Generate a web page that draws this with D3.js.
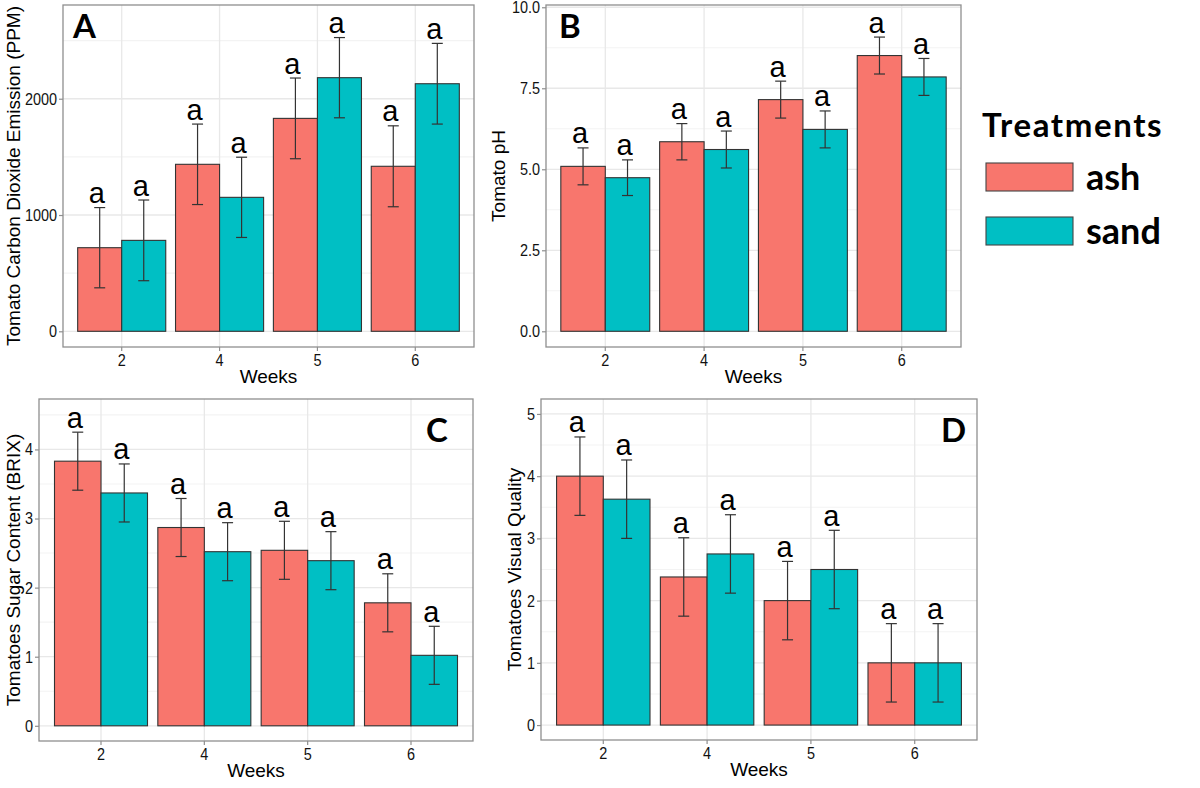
<!DOCTYPE html>
<html>
<head>
<meta charset="utf-8">
<script src="https://cdn.jsdelivr.net/npm/d3@7"></script>
<style>
  html, body { margin: 0; padding: 0; background: #ffffff; }
  svg { display: block; }
</style>
</head>
<body>
<svg id="chart" width="1200" height="788"></svg>
<script>
// ---------- DATA ----------
const weeks = ["2", "4", "5", "6"];
const treatments = ["ash", "sand"];
const treatmentColors = ["#F8766D", "#00BFC4"];

// A: Tomato Carbon Dioxide Emission (PPM)
const co2Ash = [719, 1436, 1831, 1419];
const co2Sand = [782, 1152, 2181, 2129];
const co2AshErr = [345, 346, 347, 348];
const co2SandErr = [347, 345, 345, 347];
const co2Letters = ["a", "a", "a", "a", "a", "a", "a", "a"];
const co2Ticks = [0, 1000, 2000];

// B: Tomato pH
const phAsh = [5.09, 5.85, 7.15, 8.51];
const phSand = [4.74, 5.61, 6.23, 7.85];
const phAshErr = [0.57, 0.56, 0.57, 0.57];
const phSandErr = [0.55, 0.57, 0.57, 0.57];
const phLetters = ["a", "a", "a", "a", "a", "a", "a", "a"];
const phTicks = [0, 2.5, 5, 7.5, 10];

// C: Tomatoes Sugar Content (BRIX)
const brixAsh = [3.83, 2.87, 2.54, 1.78];
const brixSand = [3.37, 2.52, 2.39, 1.02];
const brixAshErr = [0.42, 0.42, 0.42, 0.42];
const brixSandErr = [0.42, 0.42, 0.42, 0.42];
const brixLetters = ["a", "a", "a", "a", "a", "a", "a", "a"];
const brixTicks = [0, 1, 2, 3, 4];

// D: Tomatoes Visual Quality
const visAsh = [4.0, 2.38, 2.0, 1.0];
const visSand = [3.63, 2.75, 2.5, 1.0];
const visAshErr = [0.63, 0.63, 0.63, 0.63];
const visSandErr = [0.63, 0.63, 0.63, 0.63];
const visLetters = ["a", "a", "a", "a", "a", "a", "a", "a"];
const visTicks = [0, 1, 2, 3, 4, 5];

// ---------- LAYOUT ----------
const panels = [
  { letter: "A", title: "Tomato Carbon Dioxide Emission (PPM)", ash: co2Ash, sand: co2Sand, ashErr: co2AshErr, sandErr: co2SandErr, labels: co2Letters,
    ticks: co2Ticks, fmt: d3.format("d"), domain: [-135, 2806],
    box: { l: 63, r: 474, t: 5, b: 347 }, titleX: 20, letterPos: { x: 73, y: 38 } },
  { letter: "B", title: "Tomato pH", ash: phAsh, sand: phSand, ashErr: phAshErr, sandErr: phSandErr, labels: phLetters,
    ticks: phTicks, fmt: d3.format(".1f"), domain: [-0.485, 10.07],
    box: { l: 546, r: 961, t: 5, b: 347 }, titleX: 505, letterPos: { x: 559, y: 38 } },
  { letter: "C", title: "Tomatoes Sugar Content (BRIX)", ash: brixAsh, sand: brixSand, ashErr: brixAshErr, sandErr: brixSandErr, labels: brixLetters,
    ticks: brixTicks, fmt: d3.format("d"), domain: [-0.22, 4.73],
    box: { l: 39, r: 473, t: 399, b: 741 }, titleX: 20, letterPos: { x: 426, y: 442 } },
  { letter: "D", title: "Tomatoes Visual Quality", ash: visAsh, sand: visSand, ashErr: visAshErr, sandErr: visSandErr, labels: visLetters,
    ticks: visTicks, fmt: d3.format("d"), domain: [-0.24, 5.24],
    box: { l: 541, r: 977, t: 399, b: 740 }, titleX: 521, letterPos: { x: 941, y: 442 } }
];

const svg = d3.select("#chart");
const FONT = "'Liberation Sans', Arial, Helvetica, sans-serif";
const LFONT = "Lato, 'Open Sans', sans-serif";
const borderCol = "#8f8f8f";

panels.forEach(p => {
  const { l, r, t, b } = p.box;
  const g = svg.append("g");

  const x = d3.scaleBand().domain(weeks).range([l, r]).paddingInner(0.1).paddingOuter(0.15);
  const xs = d3.scaleBand().domain(treatments).range([0, x.bandwidth()]);
  const y = d3.scaleLinear().domain(p.domain).range([b, t]);

  // minor gridlines
  const minor = [];
  for (let i = 0; i < p.ticks.length; i++) {
    const step = p.ticks[1] - p.ticks[0];
    const v = p.ticks[i] + step / 2;
    if (v < p.domain[1]) minor.push(v);
  }
  g.selectAll(".minor").data(minor).enter().append("line")
    .attr("x1", l).attr("x2", r)
    .attr("y1", d => y(d)).attr("y2", d => y(d))
    .attr("stroke", "#f3f3f3").attr("stroke-width", 1.1);
  // major gridlines
  g.selectAll(".major").data(p.ticks).enter().append("line")
    .attr("x1", l).attr("x2", r)
    .attr("y1", d => y(d)).attr("y2", d => y(d))
    .attr("stroke", "#e8e8e8").attr("stroke-width", 1.3);
  g.selectAll(".vmajor").data(weeks).enter().append("line")
    .attr("x1", d => x(d) + x.bandwidth() / 2).attr("x2", d => x(d) + x.bandwidth() / 2)
    .attr("y1", t).attr("y2", b)
    .attr("stroke", "#e8e8e8").attr("stroke-width", 1.3);

  // bars
  const rows = [];
  weeks.forEach((w, i) => {
    rows.push({ week: w, tr: "ash", v: p.ash[i], e: p.ashErr[i], lab: p.labels[i * 2], c: treatmentColors[0] });
    rows.push({ week: w, tr: "sand", v: p.sand[i], e: p.sandErr[i], lab: p.labels[i * 2 + 1], c: treatmentColors[1] });
  });

  g.selectAll(".bar").data(rows).enter().append("rect")
    .attr("x", d => x(d.week) + xs(d.tr))
    .attr("width", xs.bandwidth())
    .attr("y", d => y(d.v))
    .attr("height", d => y(0) - y(d.v))
    .attr("fill", d => d.c)
    .attr("stroke", "#333333").attr("stroke-width", 1.1);

  // error bars
  const cx = d => x(d.week) + xs(d.tr) + xs.bandwidth() / 2;
  const eb = g.selectAll(".eb").data(rows).enter().append("g")
    .attr("stroke", "#333333").attr("stroke-width", 1.2);
  eb.append("line").attr("x1", cx).attr("x2", cx).attr("y1", d => y(d.v + d.e)).attr("y2", d => y(d.v - d.e));
  eb.append("line").attr("x1", d => cx(d) - 5.5).attr("x2", d => cx(d) + 5.5).attr("y1", d => y(d.v + d.e)).attr("y2", d => y(d.v + d.e));
  eb.append("line").attr("x1", d => cx(d) - 5.5).attr("x2", d => cx(d) + 5.5).attr("y1", d => y(d.v - d.e)).attr("y2", d => y(d.v - d.e));

  // significance letters
  g.selectAll(".lab").data(rows).enter().append("text")
    .attr("x", d => cx(d) - 3)
    .attr("y", d => y(d.v + d.e) - 4.5)
    .attr("text-anchor", "middle")
    .attr("font-family", FONT).attr("font-size", 29)
    .attr("fill", "#000")
    .text(d => d.lab);

  // border
  g.append("rect").attr("x", l).attr("y", t).attr("width", r - l).attr("height", b - t)
    .attr("fill", "none").attr("stroke", borderCol).attr("stroke-width", 1.3);

  // axes
  const xAxis = d3.axisBottom(x).tickSize(4).tickPadding(3);
  const gx = g.append("g").attr("transform", `translate(0,${b})`).call(xAxis);
  const yAxis = d3.axisLeft(y).tickValues(p.ticks).tickFormat(p.fmt).tickSize(4).tickPadding(3);
  const gy = g.append("g").attr("transform", `translate(${l},0)`).call(yAxis);
  [gx, gy].forEach(a => {
    a.select(".domain").remove();
    a.selectAll(".tick line").attr("stroke", borderCol).attr("stroke-width", 1.2);
    a.selectAll(".tick text").attr("font-family", FONT).attr("font-size", 17).attr("fill", "#111")
      .attr("transform", "scale(0.85,1)");
  });
  gy.selectAll(".tick text").attr("x", -6 / 0.85);

  // axis titles
  g.append("text")
    .attr("x", (l + r) / 2).attr("y", b + 36)
    .attr("text-anchor", "middle")
    .attr("font-family", FONT).attr("font-size", 19).attr("fill", "#000")
    .text("Weeks");
  g.append("text")
    .attr("transform", `translate(${p.titleX},${(t + b) / 2}) rotate(-90)`)
    .attr("text-anchor", "middle")
    .attr("font-family", FONT).attr("font-size", 19).attr("fill", "#000")
    .text(p.title);

  // panel letter
  g.append("text")
    .attr("x", p.letterPos.x).attr("y", p.letterPos.y)
    .attr("font-family", LFONT).attr("font-weight", "bold").attr("font-size", 33)
    .attr("fill", "#000")
    .text(p.letter);
});

// ---------- LEGEND ----------
const lg = svg.append("g");
lg.append("text").attr("x", 982).attr("y", 137)
  .attr("font-family", LFONT).attr("font-weight", "bold").attr("font-size", 33)
  .attr("letter-spacing", 1.6)
  .attr("fill", "#000").text("Treatments");
treatments.forEach((tr, i) => {
  lg.append("rect").attr("x", 986).attr("y", 163 + i * 54).attr("width", 87).attr("height", 28)
    .attr("fill", treatmentColors[i]).attr("stroke", "#444").attr("stroke-width", 1.1);
  lg.append("text").attr("x", 1086).attr("y", 190 + i * 54)
    .attr("font-family", LFONT).attr("font-weight", "bold").attr("font-size", 36)
    .attr("fill", "#000").text(tr);
});
</script>
</body>
</html>
